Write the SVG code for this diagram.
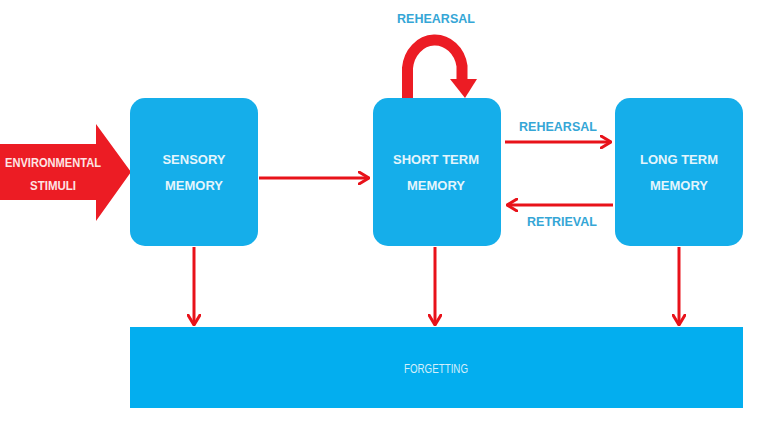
<svg xmlns="http://www.w3.org/2000/svg" width="768" height="432" viewBox="0 0 768 432">
<defs>
<style>
.box{fill:#15aeea;}
.bt{font-family:"Liberation Sans",Arial,sans-serif;font-weight:bold;font-size:13px;fill:#e4f5fc;text-anchor:middle;}
.lbl{font-family:"Liberation Sans",Arial,sans-serif;font-weight:bold;font-size:12.5px;fill:#35a6d6;text-anchor:middle;}
.con{stroke:#e8121a;stroke-width:3;fill:none;}
</style>
<marker id="ah" viewBox="0 0 12 14" refX="11" refY="7" markerWidth="12" markerHeight="14" markerUnits="userSpaceOnUse" orient="auto">
<path d="M1,1 L11,7 L1,13" fill="none" stroke="#e8121a" stroke-width="3" stroke-linecap="round" stroke-linejoin="round"/>
</marker>
</defs>
<rect width="768" height="432" fill="#ffffff"/>
<g id="env-stimuli">
<polygon points="0,144 96,144 96,124 131,172 96,221 96,200 0,200" fill="#ec1c24"/>
<text class="bt" x="53" y="167" style="font-size:12.5px;fill:#fde4e4" textLength="96" lengthAdjust="spacingAndGlyphs">ENVIRONMENTAL</text>
<text class="bt" x="53" y="190" style="font-size:12.5px;fill:#fde4e4" textLength="46" lengthAdjust="spacingAndGlyphs">STIMULI</text>
</g>
<g id="sensory-memory">
<rect class="box" x="130" y="98" width="128" height="148" rx="15"/>
<text class="bt" x="194" y="164">SENSORY</text>
<text class="bt" x="194" y="190">MEMORY</text>
</g>
<g id="short-term-memory">
<rect class="box" x="373" y="98" width="128" height="148" rx="15"/>
<text class="bt" x="436" y="164">SHORT TERM</text>
<text class="bt" x="436" y="190">MEMORY</text>
</g>
<g id="long-term-memory">
<rect class="box" x="615" y="98" width="128" height="148" rx="15"/>
<text class="bt" x="679" y="164">LONG TERM</text>
<text class="bt" x="679" y="190">MEMORY</text>
</g>
<g id="forgetting">
<rect x="130" y="327" width="613" height="81" fill="#03aeef"/>
<text x="436" y="373" font-family="'Liberation Sans',Arial,sans-serif" font-size="13" fill="#d4effb" text-anchor="middle" textLength="64" lengthAdjust="spacingAndGlyphs">FORGETTING</text>
</g>
<g id="connectors">
<path class="con" d="M259,178 L369,178" marker-end="url(#ah)"/>
<path class="con" d="M505,142 L611,142" marker-end="url(#ah)"/>
<path class="con" d="M613,205 L507,205" marker-end="url(#ah)"/>
<path class="con" d="M194,247 L194,325" marker-end="url(#ah)"/>
<path class="con" d="M435,247 L435,325" marker-end="url(#ah)"/>
<path class="con" d="M679,247 L679,325" marker-end="url(#ah)"/>
<path d="M407.5,98 L407.5,68 A27.5,31 0 0 1 462,66 L462,82" fill="none" stroke="#ec1c24" stroke-width="11"/>
<polygon points="450,79 477,79 465,98" fill="#ec1c24"/>
<text class="lbl" x="436" y="23">REHEARSAL</text>
<text class="lbl" x="558" y="131">REHEARSAL</text>
<text class="lbl" x="562" y="226">RETRIEVAL</text>
</g>
</svg>
